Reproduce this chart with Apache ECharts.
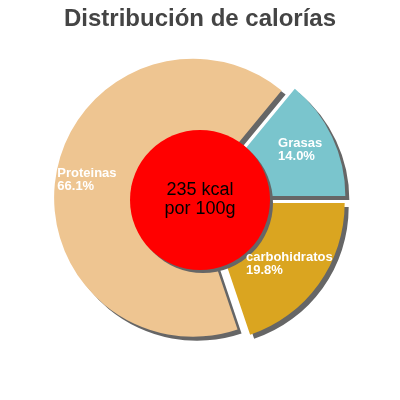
<!DOCTYPE html>
<html lang="es">
<head>
  <meta charset="utf-8">
  <title>Distribución de calorías</title>
  <style>
    * { margin: 0; padding: 0; }
    #chart-container { width: 400px; height: 400px; }
  </style>
</head>
<body>
  <div id="chart-container"></div>
  <script src="https://cdn.jsdelivr.net/npm/echarts@6/dist/echarts.min.js"></script>
  <script>
    // data (share of calories, %)
    var names = ['Grasas', 'Proteinas', 'carbohidratos'];
    var shares = [14.0, 66.1, 19.8];
    var colors = ['#7ac5cd', '#eec591', '#daa520'];
    // nudge for each slice label (left-aligned text)
    var labelShift = [[-21, -2], [-35, 1], [-43, 1]];
    var centerText = ['235 kcal', 'por 100g'];

    var dom = document.getElementById('chart-container');
    var myChart = echarts.init(dom, null, { renderer: 'canvas' });

    var shadow = {
      shadowColor: '#666',
      shadowBlur: 0,
      shadowOffsetX: 4,
      shadowOffsetY: 4
    };

    var pieData = names.map(function (n, i) {
      return {
        name: n,
        value: shares[i],
        selected: true,
        itemStyle: Object.assign({ color: colors[i] }, shadow)
      };
    });

    var option = {
      animation: false,
      backgroundColor: '#fff',
      title: {
        text: 'Distribución de calorías',
        left: 'center',
        top: 2,
        textStyle: {
          fontFamily: 'Liberation Sans, Arial, sans-serif',
          fontSize: 24,
          fontWeight: 'bold',
          color: '#444'
        }
      },
      series: [
        {
          type: 'pie',
          center: [200, 199],
          radius: [60, 139],
          startAngle: 0,
          clockwise: false,
          selectedMode: 'multiple',
          selectedOffset: 7,
          emphasis: { disabled: true },
          label: {
            show: true,
            position: 'inside',
            color: '#fff',
            fontFamily: 'Liberation Sans, Arial, sans-serif',
            fontSize: 13,
            fontWeight: 'bold',
            lineHeight: 13,
            formatter: function (p) {
              return p.name + '\n' + p.value.toFixed(1) + '%';
            }
          },
          labelLayout: function (p) {
            var s = labelShift[p.dataIndex];
            return {
              align: 'left',
              dx: s[0],
              dy: s[1]
            };
          },
          labelLine: { show: false },
          data: pieData
        },
        {
          type: 'pie',
          center: [200, 200],
          radius: [0, 70],
          silent: true,
          emphasis: { disabled: true },
          itemStyle: Object.assign({ color: '#ff0000' }, shadow, { shadowOffsetX: 3, shadowOffsetY: 3 }),
          label: {
            show: true,
            position: 'center',
            color: '#000',
            fontFamily: 'Liberation Sans, Arial, sans-serif',
            fontSize: 18,
            lineHeight: 19,
            formatter: centerText.join('\n')
          },
          labelLine: { show: false },
          data: [{ name: 'kcal', value: 1 }]
        }
      ]
    };

    myChart.setOption(option);
    window.addEventListener('resize', myChart.resize);
  </script>
</body>
</html>
